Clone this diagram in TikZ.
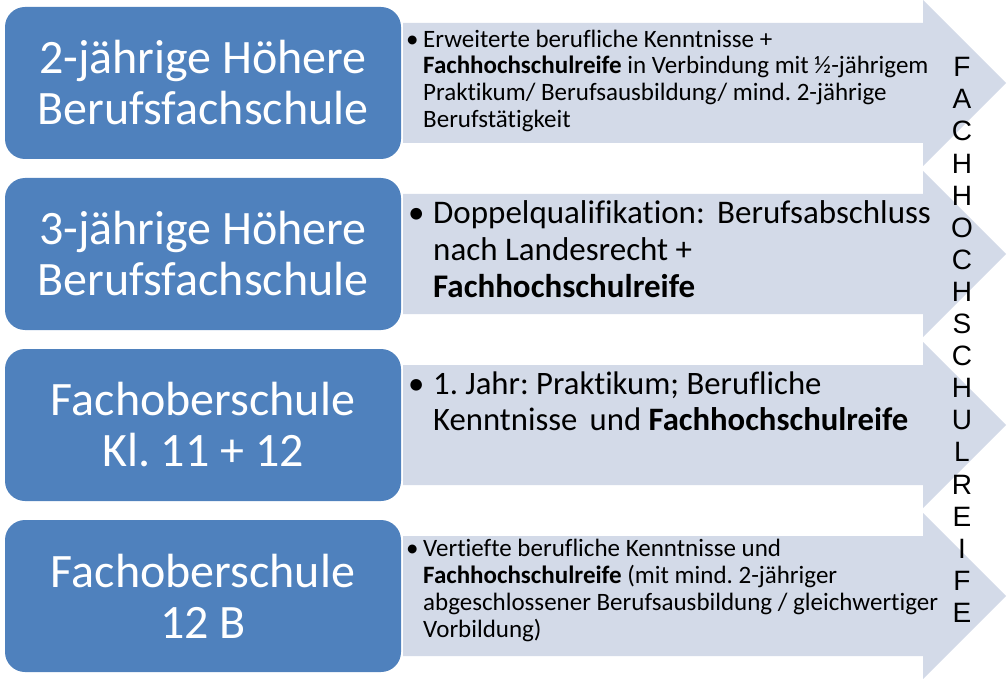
\documentclass[tikz,border=0pt]{standalone}
\usepackage{fontspec}
\setmainfont{Carlito}[Ligatures=NoCommon]
\newfontfamily\arialf{Liberation Sans}
\definecolor{boxblue}{HTML}{4F81BD}
\definecolor{arrowgrey}{HTML}{D3DAE8}
\frenchspacing
\begin{document}
\begin{tikzpicture}[x=1pt,y=-1pt,
  schoolbox/.style={fill=boxblue, rounded corners=20pt, draw=none, inner sep=0pt,
    minimum width=396pt, minimum height=152pt, text=white, align=center,
    font=\fontsize{48}{51}\selectfont},
  arrowshape/.style={fill=arrowgrey, draw=none},
  desctext/.style={anchor=west, inner sep=0pt, text=black, align=left}]
\useasboundingbox (0,0) rectangle (1007,679);
\foreach \c in {83,254,425,596}{
  \fill[arrowshape] (403,\c-60) -- (923,\c-60) -- (923,\c-83) -- (1006,\c)
     -- (923,\c+83) -- (923,\c+60) -- (403,\c+60) -- cycle;
}
\node[schoolbox] (b1) at (203,83) {2-jährige Höhere\\Berufsfachschule};
\node[schoolbox] (b2) at (203,254) {3-jährige Höhere\\Berufsfachschule};
\node[schoolbox] (b3) at (203,425) {Fachoberschule\\Kl. 11 + 12};
\node[schoolbox] (b4) at (203,596) {Fachoberschule\\12 B};

\node[desctext] (t1) at (406,82) {\fontsize{25}{26.7}\selectfont
  \begin{tabular}{@{}p{17pt}@{}l@{}}
  •&Erweiterte berufliche Kenntnisse +\\
  &\textbf{Fachhochschulreife} in Verbindung mit ½-jährigem\\
  &Praktikum/ Berufsausbildung/ mind. 2-jährige\\
  &Berufstätigkeit
  \end{tabular}};
\node[desctext] (t2) at (408,253) {\fontsize{33}{37}\selectfont
  \begin{tabular}{@{}p{25pt}@{}l@{}}
  •&Doppelqualifikation:\hspace{0.15em} Berufsabschluss\\
  &nach Landesrecht +\\
  &\textbf{Fachhochschulreife}
  \end{tabular}};
\node[desctext] (t3) at (408,405) {\fontsize{32.7}{36}\selectfont
  \begin{tabular}{@{}p{25pt}@{}l@{}}
  •&1. Jahr: Praktikum; Berufliche\\
  &Kenntnisse\hspace{0.15em} und \textbf{Fachhochschulreife}
  \end{tabular}};
\node[desctext] (t4) at (406,592) {\fontsize{25}{27}\selectfont
  \begin{tabular}{@{}p{17pt}@{}l@{}}
  •&Vertiefte berufliche Kenntnisse und\\
  &\textbf{Fachhochschulreife} (mit mind. 2-jähriger\\
  &abgeschlossener Berufsausbildung / gleichwertiger\\
  &Vorbildung)
  \end{tabular}};

\node[anchor=center, inner sep=0pt, align=center, text=black,
  font=\arialf\fontsize{28}{32.1}\selectfont] (fhr) at (962,340)
  {F\\A\\C\\H\\H\\O\\C\\H\\S\\C\\H\\U\\L\\R\\E\\I\\F\\E};
\end{tikzpicture}
\end{document}
